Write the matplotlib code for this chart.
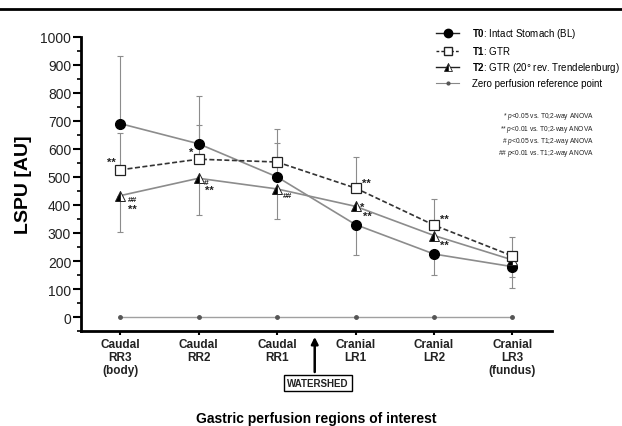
import matplotlib.pyplot as plt
from matplotlib.lines import Line2D
from matplotlib.ticker import MultipleLocator

plt.rcParams['font.family'] = ['Liberation Sans', 'DejaVu Sans']
plt.rcParams['mathtext.fontset'] = 'custom'
plt.rcParams['mathtext.rm'] = 'Liberation Sans'
plt.rcParams['mathtext.bf'] = 'Liberation Sans:bold'
plt.rcParams['mathtext.it'] = 'Liberation Sans:italic'

# data
regions = ['Caudal\nRR3\n(body)', 'Caudal\nRR2', 'Caudal\nRR1',
           'Cranial\nLR1', 'Cranial\nLR2', 'Cranial\nLR3\n(fundus)']
t0_mean = [690, 618, 500, 330, 225, 180]
t0_err_up = [240, 172, 170, 0, 0, 0]
t0_err_low = [0, 0, 0, 108, 73, 77]
t1_mean = [525, 563, 553, 460, 328, 218]
t1_err_up = [130, 123, 68, 112, 93, 67]
t1_err_low = [0, 0, 0, 0, 0, 0]
t2_mean = [433, 495, 457, 395, 291, 204]
t2_err_up = [0, 0, 0, 0, 0, 0]
t2_err_low = [130, 130, 107, 0, 0, 60]
zero_ref = [0, 0, 0, 0, 0, 0]

labels = [r'$\mathbf{T0}$: Intact Stomach (BL)', r'$\mathbf{T1}$: GTR',
          r'$\mathbf{T2}$: GTR (20° rev. Trendelenburg)', 'Zero perfusion reference point']
notes = [r'* $\it{p}$<0.05 vs. T0;2-way ANOVA', r'** $\it{p}$<0.01 vs. T0;2-way ANOVA',
         r'# $\it{p}$<0.05 vs. T1;2-way ANOVA', r'## $\it{p}$<0.01 vs. T1;2-way ANOVA']

x = list(range(len(regions)))

fig = plt.figure(figsize=(6.22, 4.27), dpi=100)
ax = fig.add_axes([0.130, 0.222, 0.757, 0.690])

grey = '#8c8c8c'
ax.plot(x, zero_ref, color='#a0a0a0', lw=1, marker='o', ms=2.5, mfc='#555555',
        mec='#555555', zorder=2)

ax.errorbar(x, t0_mean, yerr=[t0_err_low, t0_err_up], fmt='none', ecolor=grey,
            elinewidth=0.8, capsize=2.5, capthick=0.8, zorder=1)
ax.errorbar(x, t1_mean, yerr=[t1_err_low, t1_err_up], fmt='none', ecolor=grey,
            elinewidth=0.8, capsize=2.5, capthick=0.8, zorder=1)
ax.errorbar(x, t2_mean, yerr=[t2_err_low, t2_err_up], fmt='none', ecolor=grey,
            elinewidth=0.8, capsize=2.5, capthick=0.8, zorder=1)

ax.plot(x, t0_mean, color=grey, lw=1.2, marker='o', ms=7, mfc='black', mec='black', zorder=3)
ax.plot(x, t1_mean, color='#333333', lw=1.2, ls=(0, (3, 1.5)), marker='s', ms=7,
        mfc='white', mec='#222222', mew=0.9, zorder=4)
ax.plot(x, t2_mean, color=grey, lw=1.2, marker='^', ms=7, fillstyle='left',
        mfc='black', mfcalt='white', mec='#222222', mew=0.7, zorder=3)

# significance marks next to points (offsets in pixels)
marks = [(t1_mean, 0, '**', -9, 8), (t2_mean, 0, '##', 12, -4), (t2_mean, 0, '**', 12, -13),
         (t1_mean, 1, '*', -7, 7), (t2_mean, 1, '#', 8, -4), (t2_mean, 1, '**', 11, -12),
         (t2_mean, 2, '##', 10, -7),
         (t1_mean, 3, '**', 11, 5), (t2_mean, 3, '*', 7, -1), (t2_mean, 3, '**', 12, -10),
         (t1_mean, 4, '**', 10, 6), (t2_mean, 4, '**', 10, -9)]
for series, i, txt, dx, dy in marks:
    size = 8 if '*' in txt else 6
    ax.annotate(txt, xy=(i, series[i]), xytext=(dx * 0.72, dy * 0.72), textcoords='offset points',
                ha='center', va='center', fontsize=size, fontweight='bold', color='#222222')

ax.set_xlim(-0.5, 5.5)
ax.set_ylim(-50, 1000)
ax.set_xticks(x)
ax.set_xticklabels(regions, fontsize=8.5, fontweight='bold', color='#222222', linespacing=1.1)
ax.yaxis.set_major_locator(MultipleLocator(100))
ax.yaxis.set_minor_locator(MultipleLocator(50))
ax.tick_params(axis='y', which='major', length=6, width=1.5, labelsize=10, labelcolor='#222222', pad=1)
ax.tick_params(axis='y', which='minor', length=3, width=1.2)
ax.tick_params(axis='x', length=3, width=1.5, pad=2)
for s in ['top', 'right']:
    ax.spines[s].set_visible(False)
for s in ['left', 'bottom']:
    ax.spines[s].set_linewidth(2)
ax.set_ylabel('LSPU [AU]', fontsize=14, fontweight='bold', labelpad=6)
ax.set_xlabel('Gastric perfusion regions of interest', fontsize=10, fontweight='bold')
ax.xaxis.set_label_coords(0.5, -0.27)

# watershed marker
ax.annotate('', xy=(2.48, -0.01), xycoords=('data', 'axes fraction'),
            xytext=(2.48, -0.148), textcoords=('data', 'axes fraction'),
            arrowprops=dict(arrowstyle='-|>', lw=1.8, color='black', mutation_scale=10))
ax.text(2.52, -0.176, 'WATERSHED', transform=ax.get_xaxis_transform(), ha='center', va='center',
        fontsize=7, fontweight='bold', color='#222222',
        bbox=dict(boxstyle='square,pad=0.35', fc='white', ec='black', lw=1))

handles = [Line2D([], [], color='#222222', lw=1, marker='o', ms=6, mfc='black', mec='black'),
           Line2D([], [], color='#222222', lw=1, ls=(0, (2, 1.5)), marker='s', ms=6,
                  mfc='white', mec='#222222'),
           Line2D([], [], color='#222222', lw=1, marker='^', ms=6, fillstyle='left',
                  mfc='black', mfcalt='white', mec='#222222', mew=0.6),
           Line2D([], [], color='#888888', lw=0.8, marker='o', ms=2, mfc='#555555', mec='#555555')]
fig.legend(handles, labels, loc='upper left', bbox_to_anchor=(436 / 622, 1 - 27 / 427),
           frameon=False, fontsize=7, handlelength=2.4, handletextpad=1.3,
           labelspacing=0.42, borderpad=0, borderaxespad=0)

for k, txt in enumerate(notes):
    fig.text(594 / 622, 1 - (117 + 12.3 * k) / 427, txt, ha='right', va='center',
             fontsize=4.8, color='#222222')

fig.add_artist(Line2D([0, 1], [1 - 10 / 427, 1 - 10 / 427], color='black', lw=2,
                      transform=fig.transFigure))

fig.savefig('out.png', dpi=100)
